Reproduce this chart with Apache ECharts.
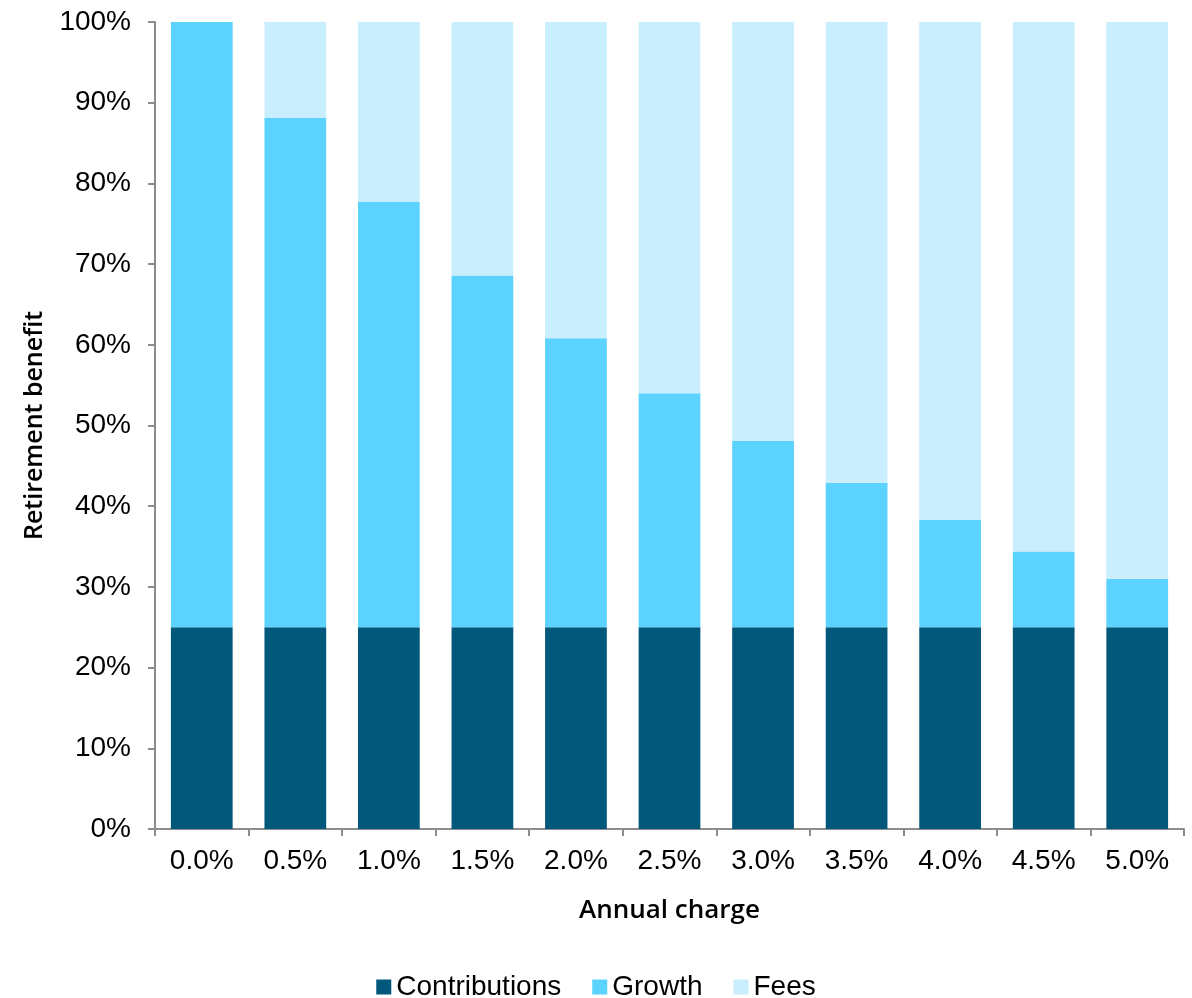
<!DOCTYPE html>
<html>
<head>
<meta charset="utf-8">
<title>Retirement benefit by annual charge</title>
<script src="https://cdn.jsdelivr.net/npm/echarts@6/dist/echarts.min.js"></script>
<style>
  html, body { margin: 0; padding: 0; background: #ffffff; }
  #chart { width: 1192px; height: 998px; }
</style>
</head>
<body>
<div id="chart"></div>
<script>
// Annual charge levels on the x axis
const charges = ['0.0%', '0.5%', '1.0%', '1.5%', '2.0%', '2.5%', '3.0%', '3.5%', '4.0%', '4.5%', '5.0%'];

// Share of the no-fee retirement benefit (in %) for each charge level
const contributions = [25, 25, 25, 25, 25, 25, 25, 25, 25, 25, 25];
const growth        = [75, 63.1, 52.7, 43.6, 35.8, 29.0, 23.1, 17.9, 13.3, 9.4, 6.0];
const fees          = [0, 11.9, 22.3, 31.4, 39.2, 46.0, 51.9, 57.1, 61.7, 65.6, 69.0];

const seriesNames = ['Contributions', 'Growth', 'Fees'];
const seriesColors = ['#02587a', '#5cd3fe', '#c9eefd'];

const labelFont = "'Liberation Sans', Arial, Helvetica, sans-serif";
const titleFont = "'Open Sans', 'Noto Sans', sans-serif";
const axisGrey = '#8c8c8c';

const chart = echarts.init(document.getElementById('chart'));

chart.setOption({
  animation: false,
  grid: { left: 155, right: 8, top: 22, bottom: 169, containLabel: false },
  legend: {
    data: seriesNames,
    bottom: -8,
    left: 'center',
    itemWidth: 15,
    itemHeight: 15,
    itemGap: 31,
    icon: 'rect',
    textStyle: { fontFamily: labelFont, fontSize: 28, color: '#000', padding: [0, 0, 0, 0] }
  },
  xAxis: {
    type: 'category',
    data: charges,
    name: 'Annual charge',
    nameLocation: 'middle',
    nameGap: 69,
    nameTextStyle: { fontFamily: titleFont, fontSize: 26, fontWeight: 600, color: '#000' },
    axisLine: { show: true, lineStyle: { color: axisGrey, width: 2 } },
    axisTick: { show: true, alignWithLabel: false, length: 7, lineStyle: { color: axisGrey, width: 2 } },
    axisLabel: { fontFamily: labelFont, fontSize: 28, color: '#000', margin: 18 }
  },
  yAxis: {
    type: 'value',
    min: 0,
    max: 100,
    interval: 10,
    name: 'Retirement benefit',
    nameLocation: 'middle',
    nameGap: 108,
    nameTextStyle: { fontFamily: titleFont, fontSize: 25, fontWeight: 600, color: '#000' },
    axisLine: { show: true, lineStyle: { color: axisGrey, width: 2 } },
    axisTick: { show: true, length: 7, lineStyle: { color: axisGrey, width: 2 } },
    splitLine: { show: false },
    axisLabel: { fontFamily: labelFont, fontSize: 28, color: '#000', margin: 24, formatter: '{value}%' }
  },
  series: [contributions, growth, fees].map((values, i) => ({
    name: seriesNames[i],
    type: 'bar',
    stack: 'benefit',
    data: values,
    barWidth: '66%',
    itemStyle: { color: seriesColors[i] }
  }))
});
</script>
</body>
</html>
